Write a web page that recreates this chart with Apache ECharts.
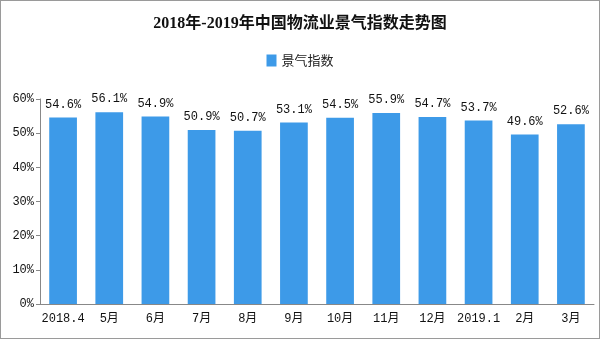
<!DOCTYPE html>
<html><head><meta charset="utf-8">
<script src="https://cdn.jsdelivr.net/npm/echarts@6/dist/echarts.min.js"></script>
<style>html,body{margin:0;padding:0;background:#fff}#c{width:598px;height:337px;border:1px solid #9a9a9a}</style>
</head><body><div id="c"></div>
<script>
const categories = ['2018.4','5月','6月','7月','8月','9月','10月','11月','12月','2019.1','2月','3月'];
const values = [54.6, 56.1, 54.9, 50.9, 50.7, 53.1, 54.5, 55.9, 54.7, 53.7, 49.6, 52.6];
const seriesName = '景气指数';
const titleText = '2018年-2019年中国物流业景气指数走势图';
const mono = "'Liberation Mono','Noto Sans CJK SC',monospace";
const chart = echarts.init(document.getElementById('c'));
chart.setOption({
  animation:false,
  title:{text:titleText,left:'center',top:10,textStyle:{fontSize:16,fontWeight:'bold',color:'#111',fontFamily:"'Liberation Serif','Noto Sans CJK SC',serif"}},
  legend:{data:[{name:seriesName,icon:'rect'}],top:48,left:'center',itemWidth:10,itemHeight:12,itemGap:4,textStyle:{fontSize:13,color:'#222',fontFamily:"'Noto Sans CJK SC',sans-serif"}},
  grid:{left:39,right:5,top:98,bottom:34},
  xAxis:{type:'category',data:categories,axisLine:{lineStyle:{color:'#888'}},axisTick:{lineStyle:{color:'#888'},length:5},
    axisLabel:{interval:0,color:'#111',fontSize:12,margin:9,fontFamily:mono}},
  yAxis:{type:'value',min:0,max:60,interval:10,axisLine:{show:true,lineStyle:{color:'#888'}},axisTick:{show:true,length:4,lineStyle:{color:'#888'}},
    splitLine:{show:false},axisLabel:{formatter:'{value}%',color:'#111',fontSize:12,margin:6,fontFamily:mono}},
  series:[{name:seriesName,type:'bar',data:values,barCategoryGap:'40%',itemStyle:{color:'#3d9ae8'},
    label:{show:true,position:'top',distance:7,formatter:p=>p.value.toFixed(1)+'%',color:'#111',fontSize:12,fontFamily:mono}}]
});
</script></body></html>
